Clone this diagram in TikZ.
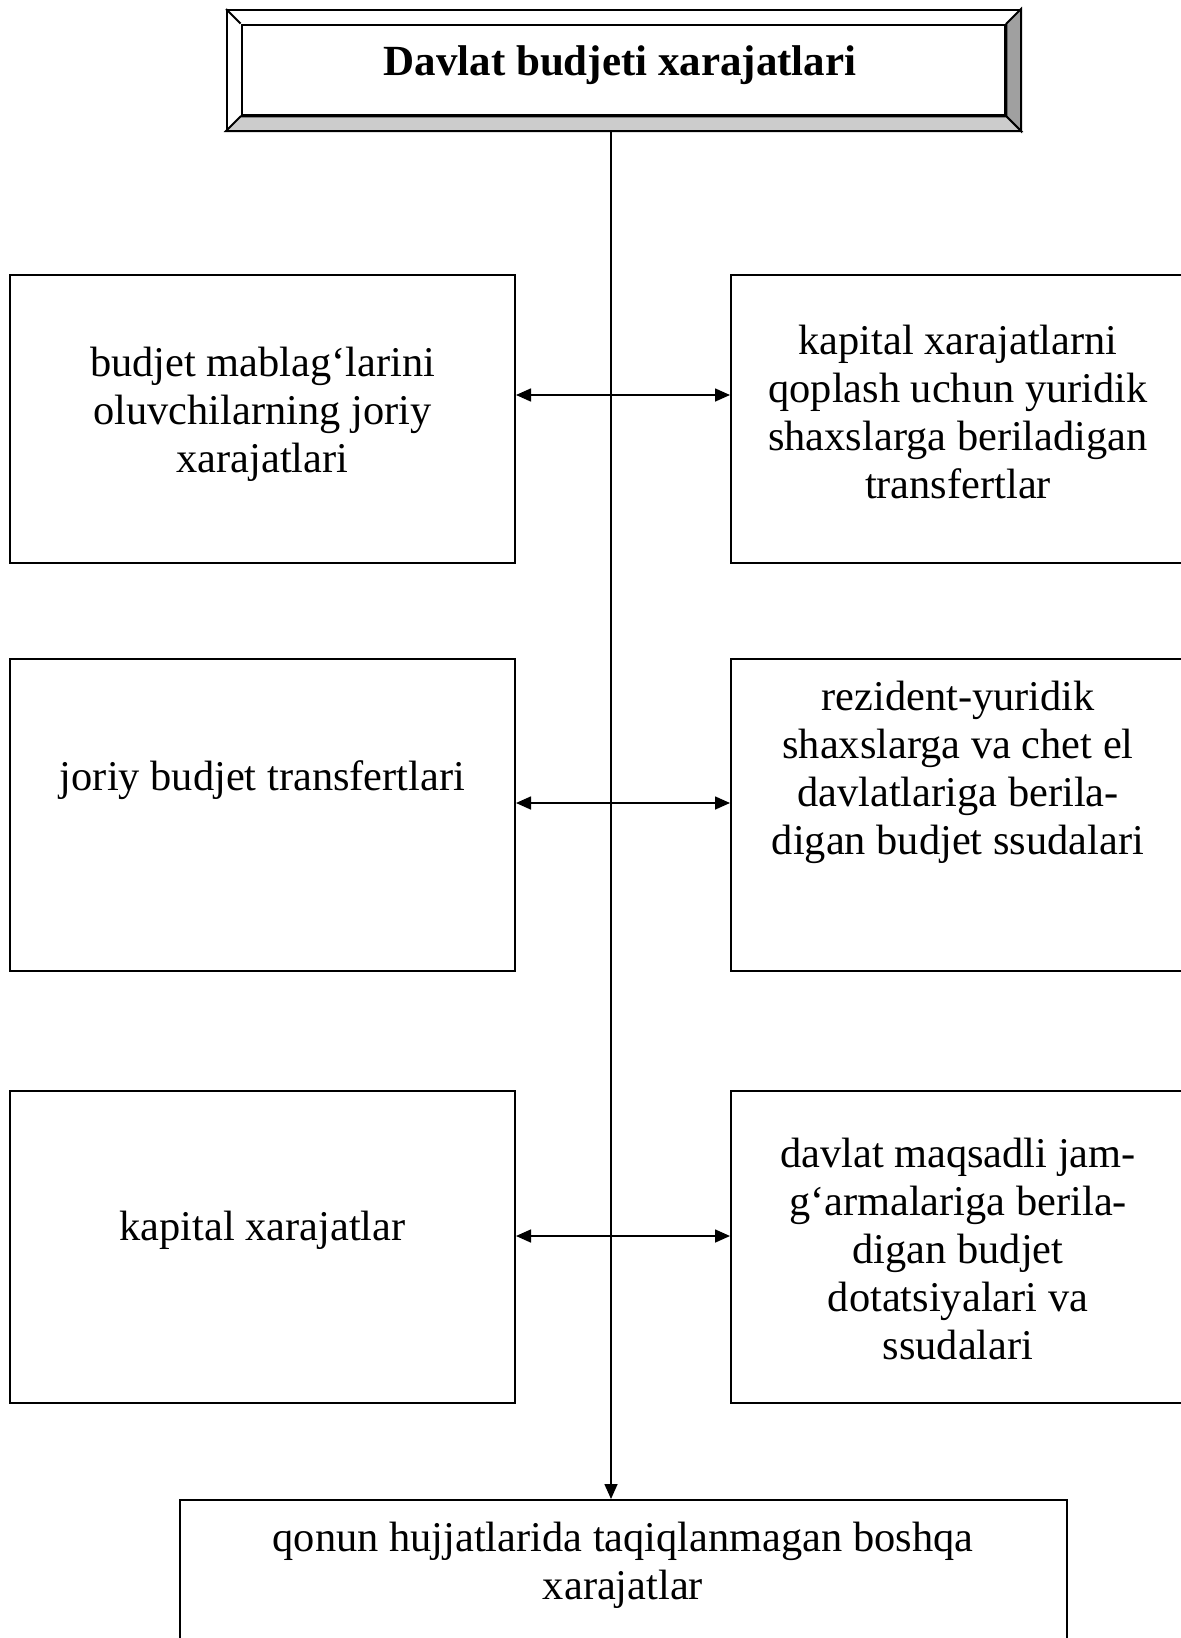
\documentclass[tikz,border=0pt]{standalone}
\usepackage{fontspec}
\setmainfont{Liberation Serif}
\usetikzlibrary{arrows.meta}
\definecolor{bevdark}{HTML}{A0A0A0}
\definecolor{bevlight}{HTML}{CCCCCC}
% one row: left box, right box and the double arrow between them
\newcommand{\sidepair}[8]{%
  \node[box,minimum width=252.5pt,minimum height=#3] (l#1) at (262.5,#2) {};
  \node[box,minimum width=227pt,minimum height=#3] (r#1) at (958,#2) {};
  \node[txt] (lt#1) at (262.5,#5) {#6};
  \node[txt] (rt#1) at (958,#7) {#8};
  \coordinate (a#1) at (0,#4);
  \draw[link] (l#1.east |- a#1) -- (r#1.west |- a#1);
}

\begin{document}
\begin{tikzpicture}[x=0.5pt,y=-0.5pt,
    box/.style={draw,line width=1pt,inner sep=0pt},
    txt/.style={align=center,font={\fontsize{21.2}{24}\selectfont}},
    link/.style={line width=0.8pt,{Triangle[length=7.5pt,width=6.5pt]}-{Triangle[length=7.5pt,width=6.5pt]}}]
  \useasboundingbox (0,0) rectangle (1180,1638);

  % title frame with bevel
  \node[box,minimum width=396.5pt,minimum height=60pt] (title) at (623.5,70) {};
  \node[box,minimum width=381.9pt,minimum height=45.4pt] (titlein) at (623.5,70) {};
  \filldraw[fill=bevdark,line width=1pt] (title.north east) -- (title.south east) -- (titlein.south east) -- (titlein.north east) -- cycle;
  \filldraw[fill=bevlight,line width=1pt] (title.south west) -- (title.south east) -- (titlein.south east) -- (titlein.south west) -- cycle;
  \draw[line width=1pt] (title.north west) -- (titlein.north west);
  \node[txt,font={\fontsize{21.5}{24}\selectfont\bfseries}] (titletxt) at (620,65) {Davlat budjeti xarajatlari};

  \sidepair{1}{419}{144pt}{395}{414}{budjet mablag‘larini\\oluvchilarning joriy\\xarajatlari}{412}{kapital xarajatlarni\\qoplash uchun yuridik\\shaxslarga beriladigan\\transfertlar}
  \sidepair{2}{815}{156pt}{803}{780}{joriy budjet transfertlari}{772}{rezident-yuridik\\shaxslarga va chet el\\davlatlariga berila-\\digan budjet ssudalari}
  \sidepair{3}{1247}{156pt}{1236}{1230}{kapital xarajatlar}{1249}{davlat maqsadli jam-\\g‘armalariga berila-\\digan budjet\\dotatsiyalari va\\ssudalari}

  % bottom box
  \node[box,minimum width=443.8pt,minimum height=85pt] (other) at (623.4,1585) {};
  \node[txt] (othertxt) at (623,1565) {qonun hujjatlarida taqiqlanmagan boshqa\\xarajatlar};

  \coordinate (spine) at (611,0);
  \draw[line width=0.8pt,-{Triangle[length=7.5pt,width=6.5pt]}] (title.south -| spine) -- (other.north -| spine);
\end{tikzpicture}
\end{document}
